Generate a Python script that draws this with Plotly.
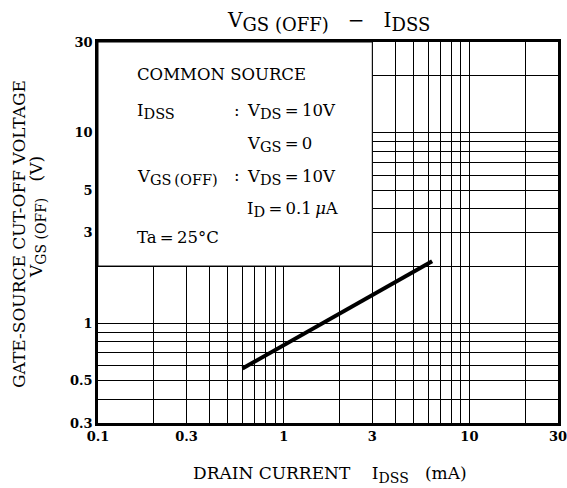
import math
import plotly.graph_objects as go

# ---- data ----
idss_ma = [0.6, 6.3]          # drain current IDSS (mA)
vgs_off_v = [0.58, 2.12]      # gate-source cut-off voltage (V)

x_grid_vals = [0.1, 0.2, 0.3, 0.4, 0.5, 0.6, 0.7, 0.8, 0.9, 1, 2, 3, 4, 5, 6, 7, 8, 9, 10, 20, 30]
x_tick_labels = {0.1: "0.1", 0.3: "0.3", 1: "1", 3: "3", 10: "10", 30: "30"}
y_grid_vals = [0.3, 0.4, 0.5, 0.6, 0.7, 0.8, 0.9, 1, 2, 3, 4, 5, 6, 7, 8, 9, 10, 20, 30]
y_tick_labels = {0.3: "0.3", 0.5: "0.5", 1: "1", 3: "3", 5: "5", 10: "10", 30: "30"}

x_range = [0.1, 30]
y_range = [0.3, 30]
box_x = [0.1, 3, 3, 0.1, 0.1]     # conditions box (white panel) corners
box_y = [2, 2, 30, 30, 2]

FONT = "DejaVu Serif"

fig = go.Figure()
fig.add_trace(go.Scatter(
    x=box_x, y=box_y, mode="lines", fill="toself", fillcolor="white",
    line=dict(color="black", width=1), showlegend=False, hoverinfo="skip"))
fig.add_trace(go.Scatter(
    x=idss_ma, y=vgs_off_v, mode="lines",
    line=dict(color="black", width=4), showlegend=False, hoverinfo="skip"))

lx = [math.log10(v) for v in x_range]
ly = [math.log10(v) for v in y_range]

axis_common = dict(
    type="log", showgrid=True, gridcolor="black", gridwidth=1,
    showline=True, linecolor="black", linewidth=2.5, mirror=True,
    ticks="", zeroline=False, tickmode="array", automargin=False,
    ticklabeloverflow="allow",
    tickfont=dict(family=FONT, size=13, color="black", weight="bold"),
)

fig.update_xaxes(**axis_common, range=lx, tickvals=x_grid_vals,
                 ticktext=[x_tick_labels.get(v, "") for v in x_grid_vals])
fig.update_yaxes(**axis_common, range=ly, tickvals=y_grid_vals,
                 ticktext=[y_tick_labels.get(v, "") for v in y_grid_vals])

W, H = 567, 488
PL, PR, PT, PB = 98, 558, 42, 423       # plot area in pixels
L, R, T, B = PL, W - PR, PT, H - PB
pw, ph = PR - PL, PB - PT

def to_paper(xp, yp):
    return (xp - PL) / pw, (PB - yp) / ph

def sub(t, size):
    return f"<sub><span style='font-size:{size}px'>{t}</span></sub>"

annos = []
def add_text(text, xp, yp, size=16.5, angle=0, xanchor="left"):
    x, y = to_paper(xp, yp)
    annos.append(dict(text=text, x=x, y=y, xref="paper", yref="paper",
                      xanchor=xanchor, yanchor="middle", showarrow=False,
                      borderpad=0, borderwidth=0,
                      textangle=angle, font=dict(family=FONT, size=size, color="black")))

S = 14.5
add_text("COMMON SOURCE", 137, 75)
add_text("I" + sub("DSS", S), 137, 112)
add_text(":", 234, 110)
add_text("V" + sub("DS", S) + "\u2009=\u200910V", 247, 112)
add_text("V" + sub("GS", S) + "\u2009=\u20090", 247, 144)
add_text("V" + sub("GS\u2009(OFF)", S), 137, 177)
add_text(":", 234, 175)
add_text("V" + sub("DS", S) + "\u2009=\u200910V", 247, 177)
add_text("I" + sub("D", S) + "\u2009=\u20090.1\u2009<i>μ</i>A", 247, 209)
add_text("Ta\u2009=\u200925°C", 137, 237)

add_text("GATE-SOURCE CUT-OFF VOLTAGE", 19, 234, size=17, angle=-90, xanchor="center")
add_text("V" + sub("GS (OFF)", 14) + "\u00a0\u00a0\u00a0(V)", 37, 217, size=17, angle=-90, xanchor="center")
add_text("DRAIN CURRENT\u00a0\u00a0\u00a0\u00a0I" + sub("DSS", 14) + "\u00a0\u00a0\u00a0(mA)",
         330, 474, size=17, xanchor="center")
add_text("V" + sub("GS (OFF)", 18) + "\u00a0\u00a0\u00a0−\u00a0\u00a0\u00a0I" + sub("DSS", 18),
         328, 21, size=20, xanchor="center")

fig.update_layout(
    width=W, height=H, margin=dict(l=L, r=R, t=T, b=B, autoexpand=False),
    paper_bgcolor="white", plot_bgcolor="white",
    annotations=annos, showlegend=False,
)

fig.write_html(
    "out.html",
    config={"displayModeBar": False},
    post_script="document.body.style.margin='0';document.documentElement.style.overflow='hidden';",
)
